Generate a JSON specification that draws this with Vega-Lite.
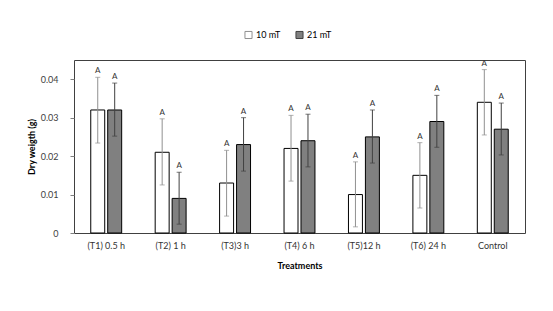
{
  "$schema": "https://vega.github.io/schema/vega-lite/v6.json",
  "width": 451,
  "height": 173,
  "autosize": {"type": "none"},
  "padding": {"left": 74, "top": 60, "right": 28, "bottom": 78},
  "background": "white",
  "config": {
    "font": "Lato",
    "view": {"stroke": "#404040", "strokeWidth": 1},
    "axis": {"labelFont": "Lato", "titleFont": "Lato", "labelColor": "#404040", "titleColor": "black", "labelFontSize": 9, "titleFontSize": 9, "titleFontWeight": "bold", "domain": false, "grid": false}
  },
  "data": {
    "values": [
      {"treatment": "(T1) 0.5 h", "group": "10 mT", "mean": 0.032, "lo": 0.0234, "hi": 0.0405, "letter": "A"},
      {"treatment": "(T1) 0.5 h", "group": "21 mT", "mean": 0.032, "lo": 0.0252, "hi": 0.039, "letter": "A"},
      {"treatment": "(T2) 1 h", "group": "10 mT", "mean": 0.021, "lo": 0.0125, "hi": 0.0297, "letter": "A"},
      {"treatment": "(T2) 1 h", "group": "21 mT", "mean": 0.009, "lo": 0.0023, "hi": 0.0158, "letter": "A"},
      {"treatment": "(T3)3 h", "group": "10 mT", "mean": 0.013, "lo": 0.0044, "hi": 0.0215, "letter": "A"},
      {"treatment": "(T3)3 h", "group": "21 mT", "mean": 0.023, "lo": 0.0161, "hi": 0.030, "letter": "A"},
      {"treatment": "(T4) 6 h", "group": "10 mT", "mean": 0.022, "lo": 0.0135, "hi": 0.0306, "letter": "A"},
      {"treatment": "(T4) 6 h", "group": "21 mT", "mean": 0.024, "lo": 0.0172, "hi": 0.0309, "letter": "A"},
      {"treatment": "(T5)12 h", "group": "10 mT", "mean": 0.010, "lo": 0.0016, "hi": 0.0185, "letter": "A"},
      {"treatment": "(T5)12 h", "group": "21 mT", "mean": 0.025, "lo": 0.0182, "hi": 0.032, "letter": "A"},
      {"treatment": "(T6) 24 h", "group": "10 mT", "mean": 0.015, "lo": 0.0065, "hi": 0.0235, "letter": "A"},
      {"treatment": "(T6) 24 h", "group": "21 mT", "mean": 0.029, "lo": 0.0223, "hi": 0.0358, "letter": "A"},
      {"treatment": "Control", "group": "10 mT", "mean": 0.034, "lo": 0.0255, "hi": 0.0425, "letter": "A"},
      {"treatment": "Control", "group": "21 mT", "mean": 0.027, "lo": 0.0203, "hi": 0.0338, "letter": "A"}
    ]
  },
  "encoding": {
    "x": {
      "field": "treatment", "type": "nominal", "sort": null,
      "scale": {"paddingInner": 0.52, "paddingOuter": 0.26},
      "axis": {"title": "Treatments", "labelAngle": 0, "ticks": false, "labelPadding": 8, "titlePadding": 11, "labelColor": "#333333"}
    },
    "xOffset": {"field": "group", "type": "nominal", "scale": {"paddingInner": 0.176, "paddingOuter": 0}}
  },
  "layer": [
    {
      "mark": {"type": "bar", "stroke": "black", "strokeWidth": 1},
      "encoding": {
        "y": {
          "field": "mean", "type": "quantitative",
          "scale": {"domain": [0, 0.045], "nice": false},
          "axis": {"title": "Dry weigth (g)", "values": [0, 0.01, 0.02, 0.03, 0.04], "ticks": true, "tickSize": 4, "tickColor": "#808080", "labelPadding": 12, "titlePadding": 4, "labelExpr": "datum.value == 0 ? '0' : format(datum.value, '.2f')"}
        },
        "fill": {
          "field": "group", "type": "nominal",
          "scale": {"domain": ["10 mT", "21 mT"], "range": ["#ffffff", "#808080"]},
          "legend": {
            "title": null, "orient": "none", "direction": "horizontal",
            "legendX": 170, "legendY": -30,
            "symbolType": "square", "symbolSize": 50, "symbolStrokeColor": "black", "symbolStrokeWidth": 1,
            "labelFont": "Lato", "labelFontSize": 9, "labelColor": "black", "columnPadding": 12, "symbolOffset": 0, "labelOffset": 3
          }
        }
      }
    },
    {
      "mark": {"type": "rule", "strokeWidth": 1},
      "encoding": {
        "y": {"field": "lo", "type": "quantitative"},
        "y2": {"field": "hi"},
        "stroke": {"field": "group", "type": "nominal", "scale": {"domain": ["10 mT", "21 mT"], "range": ["#909090", "#404040"]}, "legend": null}
      }
    },
    {
      "mark": {"type": "tick", "size": 5, "thickness": 1, "orient": "horizontal"},
      "encoding": {
        "y": {"field": "hi", "type": "quantitative"},
        "color": {"field": "group", "type": "nominal", "scale": {"domain": ["10 mT", "21 mT"], "range": ["#909090", "#404040"]}, "legend": null}
      }
    },
    {
      "mark": {"type": "tick", "size": 5, "thickness": 1, "orient": "horizontal"},
      "encoding": {
        "y": {"field": "lo", "type": "quantitative"},
        "color": {"field": "group", "type": "nominal", "scale": {"domain": ["10 mT", "21 mT"], "range": ["#909090", "#404040"]}, "legend": null}
      }
    },
    {
      "mark": {"type": "text", "fontSize": 8, "dy": -6, "color": "#333333", "font": "Lato"},
      "encoding": {
        "y": {"field": "hi", "type": "quantitative"},
        "text": {"field": "letter"}
      }
    }
  ]
}
